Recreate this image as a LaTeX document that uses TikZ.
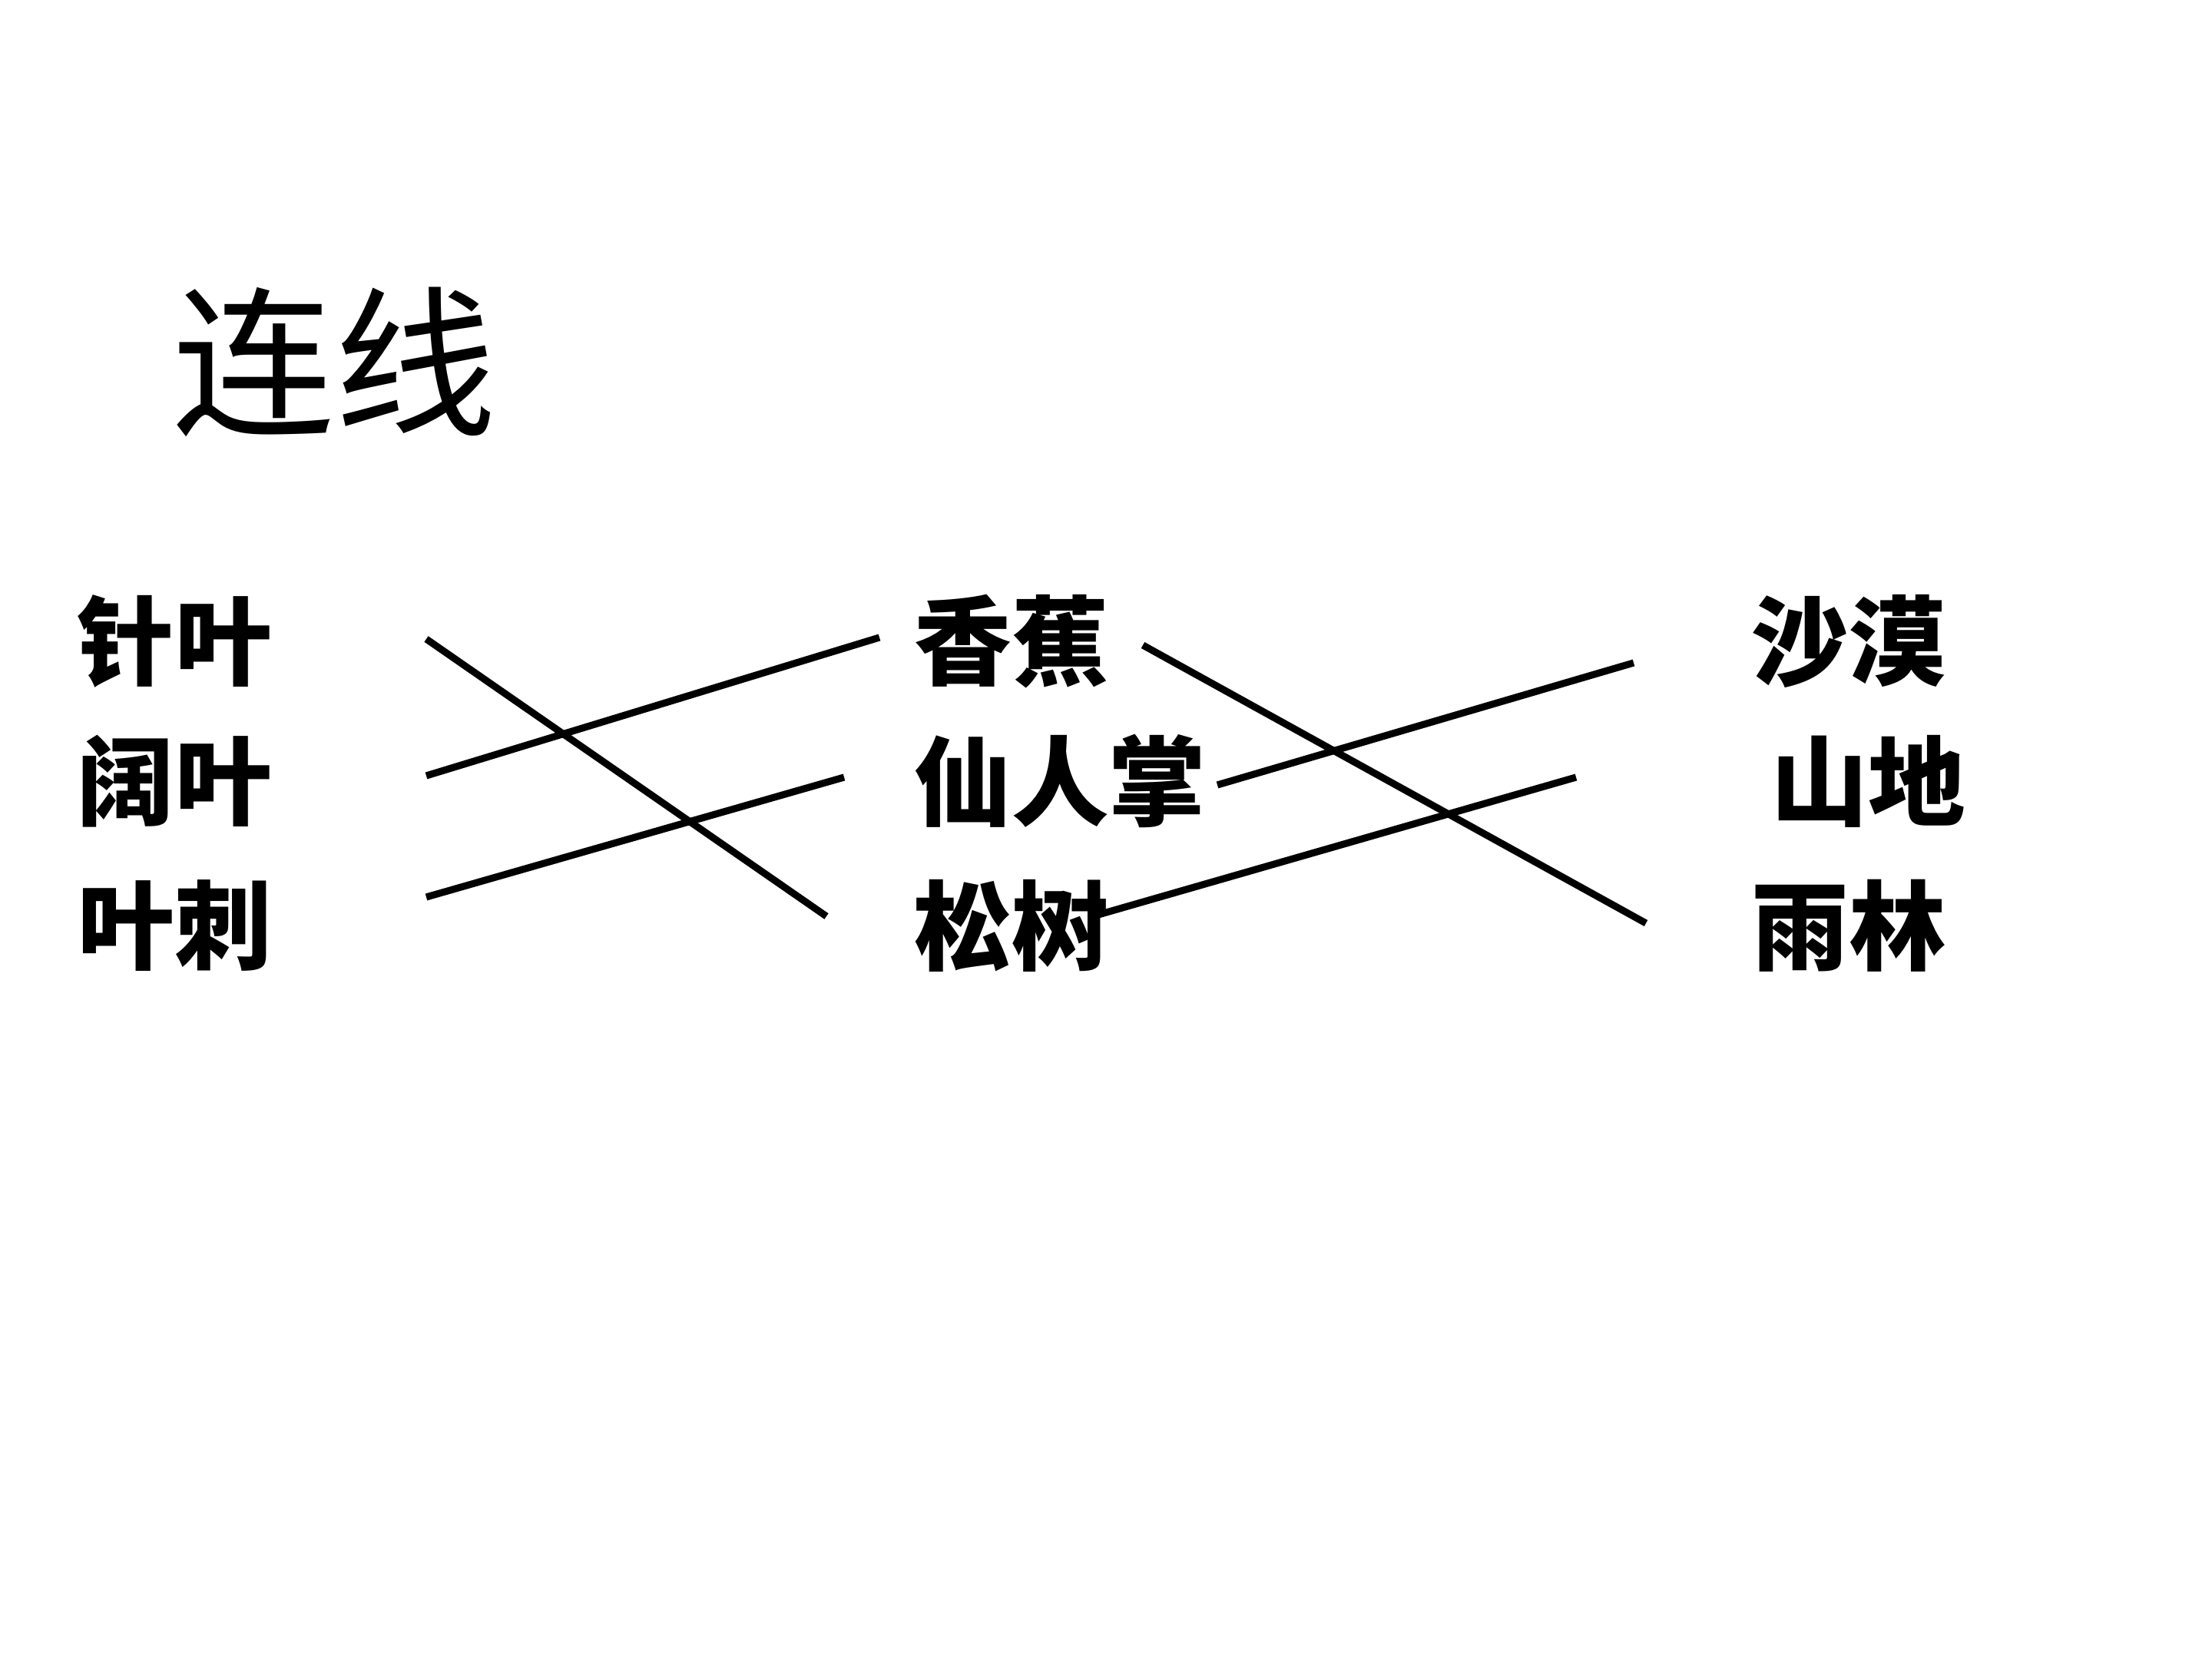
\documentclass[tikz,border=0pt]{standalone}
\usepackage{fontspec}
\usepackage{tikz}
\newfontfamily\cjk{Noto Sans CJK SC}
\tikzset{
  titlenode/.style={
    inner sep=0pt,anchor=center,
    font=\cjk\fontsize{60}{72}\selectfont
  },
  wordnode/.style={
    inner sep=0pt,anchor=west,
    font=\cjk\bfseries\fontsize{36}{43}\selectfont
  },
  linkline/.style={line width=2.6pt,draw=black},
}

\begin{document}
\begin{tikzpicture}
  \fill[white] (0,0) rectangle (28.8,-21.6);
  \useasboundingbox (0,0) rectangle (28.8,-21.6);
  \node[titlenode] (title) at (4.35,-4.71) {连线};
  % left column
  \node[wordnode] (zhenye) at (1.0,-8.35)  {针叶};
  \node[wordnode] (kuoye)  at (1.0,-10.17) {阔叶};
  \node[wordnode] (yeci)   at (1.0,-12.05) {叶刺};
  % middle column
  \node[wordnode] (xiangjiao)    at (11.9,-8.35)  {香蕉};
  \node[wordnode] (xianrenzhang) at (11.9,-10.17) {仙人掌};
  \node[wordnode] (songshu)      at (11.9,-12.05) {松树};
  % right column
  \node[wordnode] (shamo)  at (22.8,-8.35)  {沙漠};
  \node[wordnode] (shandi) at (23.05,-10.17) {山地};
  \node[wordnode] (yulin)  at (22.8,-12.05) {雨林};
  % ends of the hand-drawn lines
  \coordinate (l1a) at (5.55,-8.32);   \coordinate (l1b) at (10.76,-11.93);
  \coordinate (l2a) at (5.55,-10.10);  \coordinate (l2b) at (11.45,-8.30);
  \coordinate (l3a) at (5.55,-11.68);  \coordinate (l3b) at (10.99,-10.12);
  \coordinate (l4a) at (14.88,-8.40);  \coordinate (l4b) at (21.43,-12.02);
  \coordinate (l5a) at (15.85,-10.22); \coordinate (l5b) at (21.27,-8.63);
  \coordinate (l6a) at (14.23,-11.93); \coordinate (l6b) at (20.52,-10.12);
  \draw[linkline] (l1a) -- (l1b);
  \draw[linkline] (l2a) -- (l2b);
  \draw[linkline] (l3a) -- (l3b);
  \draw[linkline] (l4a) -- (l4b);
  \draw[linkline] (l5a) -- (l5b);
  \draw[linkline] (l6a) -- (l6b);
\end{tikzpicture}
\end{document}
